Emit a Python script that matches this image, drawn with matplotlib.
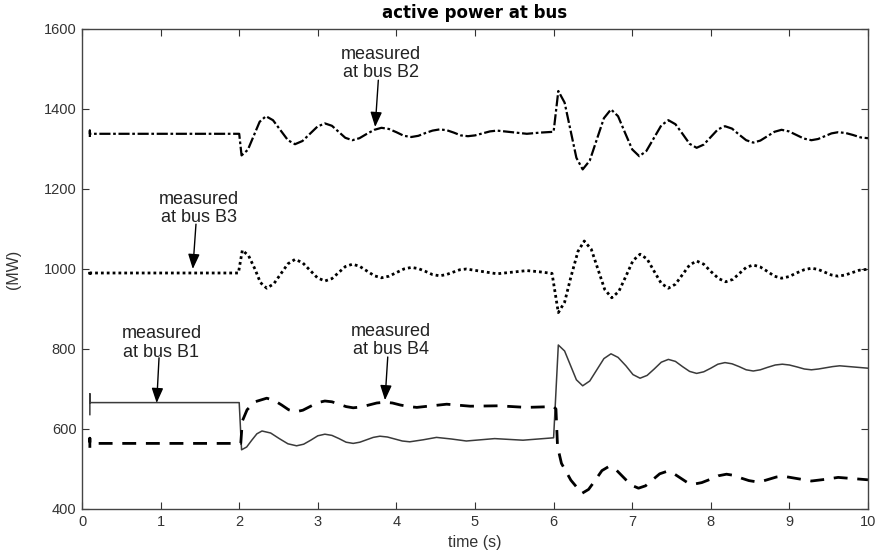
import matplotlib
matplotlib.use("Agg")
import matplotlib.pyplot as plt

plt.rcParams['font.family'] = ['Liberation Sans', 'DejaVu Sans']

# bus B1 (solid)
t_b1 = [0.1, 0.1, 0.1, 2.0, 2.03, 2.095, 2.16, 2.225, 2.29, 2.40, 2.51, 2.62, 2.73,
        2.82, 2.91, 3.0, 3.09, 3.18, 3.27, 3.36, 3.45, 3.535, 3.62, 3.705, 3.79,
        3.885, 3.98, 4.075, 4.17, 4.34, 4.51, 4.70, 4.89, 5.25, 5.61, 6.0,
        6.06, 6.14, 6.215, 6.29, 6.37, 6.46, 6.55, 6.64, 6.73, 6.82, 6.92, 7.01, 7.10,
        7.19, 7.28, 7.37, 7.46, 7.55, 7.64, 7.73, 7.82, 7.91, 8.0, 8.09, 8.18,
        8.27, 8.36, 8.45, 8.54, 8.63, 8.72, 8.82, 8.91, 9.0, 9.1, 9.19, 9.28,
        9.37, 9.46, 9.55, 9.64, 9.82, 10.0]
p_b1 = [636, 688, 666, 666, 548, 555, 572, 588, 595, 590, 576, 563, 558,
        562, 572, 583, 587, 584, 576, 567, 564, 567, 573, 579, 582,
        580, 575, 570, 568, 573, 579, 575, 570, 576, 572, 578,
        810, 795, 759, 723, 708, 720, 748, 776, 788, 779, 758, 736, 727,
        734, 750, 767, 774, 769, 756, 744, 739, 743, 752, 762, 766,
        763, 756, 748, 745, 748, 754, 760, 762, 760, 755, 750, 748,
        750, 753, 756, 758, 755, 752]

# bus B2 (dash-dot)
t_b2 = [0.1, 0.1, 0.1, 2.0, 2.03, 2.11, 2.185, 2.26, 2.34, 2.43, 2.525, 2.62, 2.71,
        2.805, 2.90, 2.995, 3.09, 3.18, 3.265, 3.35, 3.44, 3.53, 3.625, 3.72, 3.81,
        3.905, 4.0, 4.095, 4.19, 4.28, 4.37, 4.46, 4.55, 4.64, 4.73, 4.82, 4.91,
        5.0, 5.095, 5.19, 5.28, 5.47, 5.66, 5.83, 6.0,
        6.06, 6.14, 6.215, 6.29, 6.37, 6.46, 6.55, 6.64, 6.73, 6.82, 6.91, 7.0, 7.09,
        7.18, 7.275, 7.37, 7.46, 7.55, 7.64, 7.73, 7.82, 7.91, 8.0, 8.09, 8.18,
        8.27, 8.36, 8.45, 8.54, 8.63, 8.72, 8.81, 8.90, 8.995, 9.09, 9.185, 9.28,
        9.365, 9.45, 9.535, 9.62, 9.715, 9.81, 9.905, 10.0]
p_b2 = [1330, 1346, 1338, 1338, 1284, 1298, 1333, 1368, 1382, 1372, 1347, 1322, 1312,
        1320, 1338, 1356, 1364, 1358, 1343, 1328, 1322, 1327, 1338, 1348, 1353,
        1350, 1342, 1333, 1330, 1333, 1340, 1346, 1349, 1347, 1341, 1334, 1332,
        1334, 1339, 1344, 1346, 1342, 1338, 1341, 1343,
        1445, 1416, 1347, 1278, 1249, 1271, 1324, 1377, 1399, 1382, 1340, 1299, 1282,
        1295, 1327, 1359, 1372, 1362, 1338, 1313, 1303, 1311, 1330, 1349, 1357,
        1351, 1336, 1322, 1316, 1321, 1332, 1343, 1348, 1344, 1335, 1326, 1322,
        1325, 1332, 1339, 1342, 1340, 1335, 1329, 1327]

# bus B3 (dotted)
t_b3 = [0.1, 0.1, 0.1, 1.99, 2.04, 2.12, 2.2, 2.27, 2.35, 2.44, 2.53, 2.62, 2.71,
        2.805, 2.90, 2.995, 3.09, 3.18, 3.265, 3.35, 3.44, 3.53, 3.625, 3.72, 3.81,
        3.905, 4.0, 4.095, 4.19, 4.28, 4.37, 4.46, 4.55, 4.635, 4.72, 4.805, 4.89,
        5.085, 5.28, 5.47, 5.66, 5.82, 5.98,
        6.06, 6.14, 6.22, 6.31, 6.39, 6.48, 6.565, 6.65, 6.74, 6.83, 6.92, 7.01, 7.10,
        7.19, 7.28, 7.37, 7.46, 7.55, 7.64, 7.73, 7.82, 7.91, 8.0, 8.1, 8.19,
        8.28, 8.365, 8.45, 8.54, 8.63, 8.72, 8.81, 8.90, 8.995, 9.09, 9.185, 9.28,
        9.365, 9.45, 9.535, 9.62, 9.71, 9.80, 9.89, 9.98]
p_b3 = [986, 996, 990, 990, 1047, 1033, 1000, 966, 952, 963, 988, 1013, 1024,
        1016, 997, 978, 970, 976, 991, 1006, 1012, 1007, 995, 983, 978,
        982, 991, 1000, 1004, 1001, 994, 986, 983, 986, 992, 998, 1000,
        994, 988, 992, 996, 993, 989,
        891, 917, 980, 1044, 1070, 1049, 999, 949, 928, 944, 982, 1021, 1037,
        1025, 994, 964, 952, 962, 986, 1010, 1020, 1012, 994, 976, 968,
        974, 989, 1004, 1010, 1005, 994, 982, 977, 981, 990, 998, 1002,
        999, 992, 985, 982, 985, 991, 997, 999]

# bus B4 (dashed)
t_b4 = [0.1, 0.1, 0.1, 2.0, 2.02, 2.04, 2.1, 2.2, 2.35, 2.44, 2.54, 2.63, 2.72,
        2.81, 2.9, 3.0, 3.09, 3.18, 3.27, 3.36, 3.45, 3.55, 3.65, 3.75, 3.85,
        3.95, 4.05, 4.16, 4.26, 4.45, 4.64, 4.94, 5.3, 5.65, 6.0,
        6.03, 6.05, 6.1, 6.22, 6.36, 6.445, 6.53, 6.615, 6.70, 6.795, 6.89, 6.985, 7.08,
        7.17, 7.26, 7.35, 7.44, 7.525, 7.61, 7.695, 7.78, 7.885, 7.99, 8.095, 8.20,
        8.295, 8.39, 8.485, 8.58, 8.665, 8.75, 8.835, 8.92, 9.10, 9.28,
        9.45, 9.62, 9.81, 10.0]
p_b4 = [553, 577, 564, 564, 564, 620, 648, 668, 677, 672, 660, 648, 643,
        647, 656, 666, 670, 668, 662, 656, 653, 655, 660, 665, 667,
        665, 660, 656, 654, 658, 662, 657, 658, 654, 656,
        650, 556, 514, 472, 439, 449, 472, 496, 506, 498, 479, 460, 452,
        458, 473, 488, 494, 489, 478, 467, 462, 466, 474, 483, 487,
        484, 477, 471, 468, 470, 475, 480, 482, 476, 470,
        474, 479, 476, 473]

# label text, label centre, arrow tail, arrow tip
notes = [
    ('measured\nat bus B2', (3.80, 1513), (3.77, 1472), (3.73, 1355)),
    ('measured\nat bus B3', (1.49, 1152), (1.45, 1112), (1.41, 1000)),
    ('measured\nat bus B1', (1.01, 815), (0.98, 778), (0.95, 665)),
    ('measured\nat bus B4', (3.93, 822), (3.89, 780), (3.855, 672)),
]

fig = plt.figure(figsize=(8.8, 5.56), dpi=100)
ax = fig.add_axes([82 / 880, 47 / 556, 786 / 880, 480 / 556])

ax.plot(t_b1, p_b1, color='#3a3a3a', lw=1.1, solid_joinstyle='round')
ax.plot(t_b2, p_b2, color='black', lw=1.6, dashes=(5, 1.2, 1.2, 1.2))
ax.plot(t_b3, p_b3, color='black', lw=2.0, dashes=(1, 1.1))
ax.plot(t_b4, p_b4, color='black', lw=2.0, dashes=(5, 3.5))

for label, tpos, tail, tip in notes:
    ax.text(tpos[0], tpos[1], label, ha='center', va='center', fontsize=13,
            linespacing=1.1, color='#222222')
    ax.annotate('', xy=tip, xytext=tail,
                arrowprops=dict(arrowstyle='-|>,head_length=0.9,head_width=0.35',
                                color='black', lw=1.0, shrinkA=0, shrinkB=0))

ax.set_xlim(0, 10)
ax.set_ylim(400, 1600)
ax.set_xticks(range(0, 11))
ax.set_yticks(range(400, 1601, 200))
ax.tick_params(direction='in', top=True, right=True, length=5, width=0.8,
               labelsize=10.5, colors='#333333', labelcolor='#333333', pad=4)
for s in ax.spines.values():
    s.set_color('#444444')
    s.set_linewidth(1.0)

ax.set_title('active power at bus', fontsize=12, fontweight='bold', pad=8,
             family=['DejaVu Sans'])
ax.set_xlabel('time (s)', fontsize=11.5, color='#333333', labelpad=5)
ax.set_ylabel('(MW)', fontsize=11.5, color='#333333', labelpad=16)

fig.savefig('out.png', dpi=100)
